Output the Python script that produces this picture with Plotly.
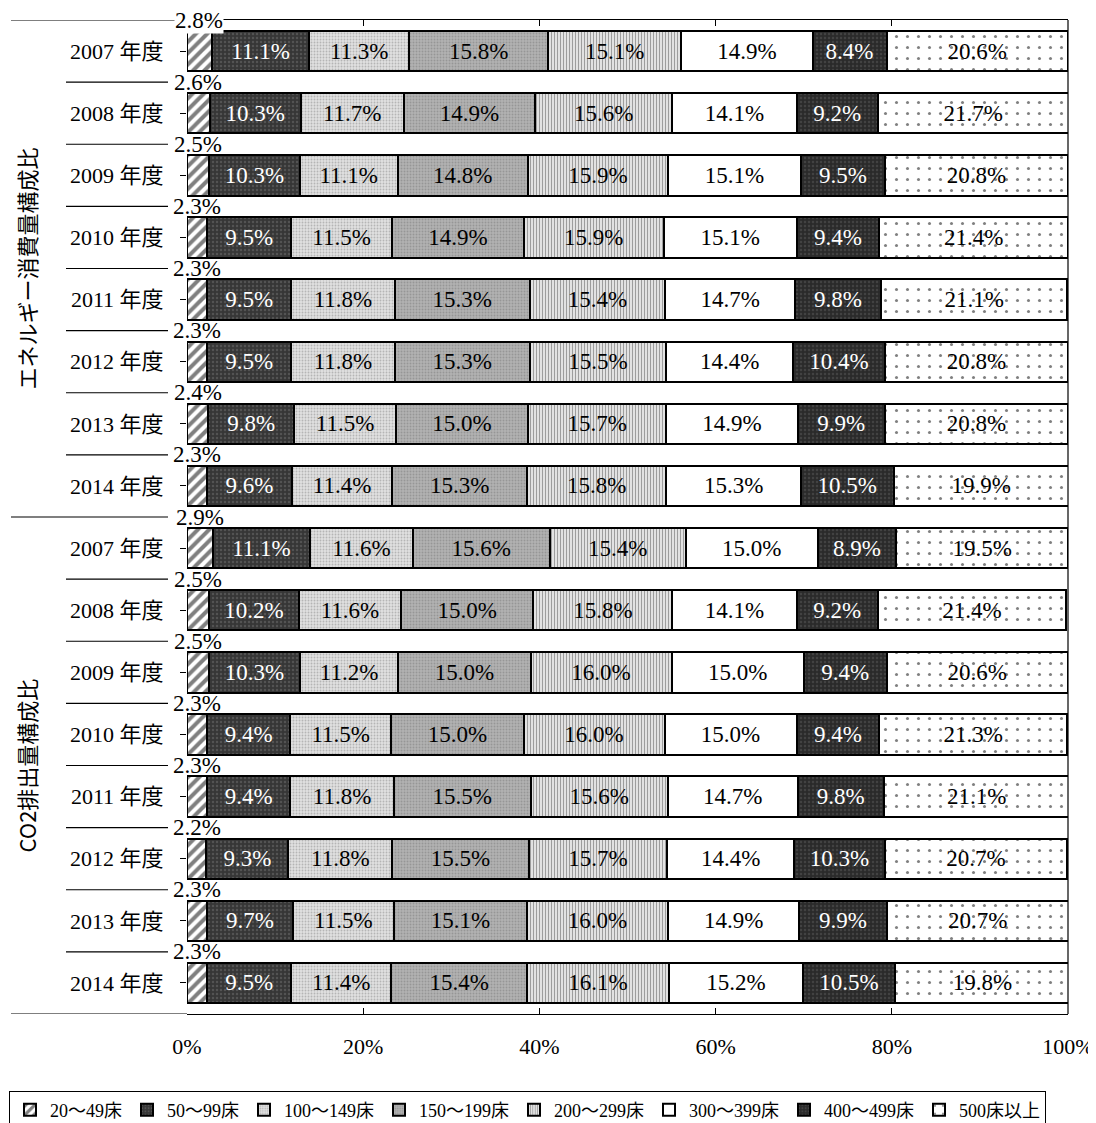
import plotly.graph_objects as go

# ---------------- data ----------------
years = ["2007 年度", "2008 年度", "2009 年度", "2010 年度",
         "2011 年度", "2012 年度", "2013 年度", "2014 年度"]
groups = ["エネルギー消費量構成比", "CO2排出量構成比"]
bed_classes = ["20〜49床", "50〜99床", "100〜149床", "150〜199床",
               "200〜299床", "300〜399床", "400〜499床", "500床以上"]

energy_20_49 = [2.8, 2.6, 2.5, 2.3, 2.3, 2.3, 2.4, 2.3]
energy_50_99 = [11.1, 10.3, 10.3, 9.5, 9.5, 9.5, 9.8, 9.6]
energy_100_149 = [11.3, 11.7, 11.1, 11.5, 11.8, 11.8, 11.5, 11.4]
energy_150_199 = [15.8, 14.9, 14.8, 14.9, 15.3, 15.3, 15.0, 15.3]
energy_200_299 = [15.1, 15.6, 15.9, 15.9, 15.4, 15.5, 15.7, 15.8]
energy_300_399 = [14.9, 14.1, 15.1, 15.1, 14.7, 14.4, 14.9, 15.3]
energy_400_499 = [8.4, 9.2, 9.5, 9.4, 9.8, 10.4, 9.9, 10.5]
energy_500_plus = [20.6, 21.7, 20.8, 21.4, 21.1, 20.8, 20.8, 19.9]

co2_20_49 = [2.9, 2.5, 2.5, 2.3, 2.3, 2.2, 2.3, 2.3]
co2_50_99 = [11.1, 10.2, 10.3, 9.4, 9.4, 9.3, 9.7, 9.5]
co2_100_149 = [11.6, 11.6, 11.2, 11.5, 11.8, 11.8, 11.5, 11.4]
co2_150_199 = [15.6, 15.0, 15.0, 15.0, 15.5, 15.5, 15.1, 15.4]
co2_200_299 = [15.4, 15.8, 16.0, 16.0, 15.6, 15.7, 16.0, 16.1]
co2_300_399 = [15.0, 14.1, 15.0, 15.0, 14.7, 14.4, 14.9, 15.2]
co2_400_499 = [8.9, 9.2, 9.4, 9.4, 9.8, 10.3, 9.9, 10.5]
co2_500_plus = [19.5, 21.4, 20.6, 21.3, 21.1, 20.7, 20.7, 19.8]

x_ticks = [0, 20, 40, 60, 80, 100]

# ---------------- styling ----------------
series = [
    (energy_20_49 + co2_20_49, dict(shape="/", fgcolor="black", bgcolor="white", size=8, solidity=0.5), "black"),
    (energy_50_99 + co2_50_99, dict(shape=".", fgcolor="#707070", bgcolor="#363636", size=4, solidity=0.3), "white"),
    (energy_100_149 + co2_100_149, dict(shape=".", fgcolor="#8a8a8a", bgcolor="#e0e0e0", size=3, solidity=0.3), "black"),
    (energy_150_199 + co2_150_199, dict(shape=".", fgcolor="#7a7a7a", bgcolor="#b2b2b2", size=3, solidity=0.3), "black"),
    (energy_200_299 + co2_200_299, dict(shape="|", fgcolor="#4a4a4a", bgcolor="#f0f0f0", size=3, solidity=0.45), "black"),
    (energy_300_399 + co2_300_399, dict(shape="", fgcolor="white", bgcolor="white"), "black"),
    (energy_400_499 + co2_400_499, dict(shape=".", fgcolor="#5a5a5a", bgcolor="#2a2a2a", size=4, solidity=0.3), "white"),
    (energy_500_plus + co2_500_plus, dict(shape=".", fgcolor="black", bgcolor="white", size=11, solidity=0.06), "black"),
]

SERIF = "Liberation Serif, Noto Sans CJK JP"
row_pos = list(range(16))
row_labels = years + years

fig = go.Figure()
for k, (vals, pat, tcol) in enumerate(series):
    base_color = pat.get("bgcolor", "white")
    show_text = k != 0
    fig.add_trace(go.Bar(
        name=bed_classes[k],
        y=row_pos,
        x=vals,
        orientation="h",
        width=0.65,
        marker=dict(color=base_color, pattern=pat, line=dict(color="black", width=2)),
        text=[f"{v:.1f}%" for v in vals] if show_text else None,
        textposition="inside" if show_text else "none",
        insidetextanchor="middle",
        textangle=0,
        insidetextfont=dict(family=SERIF, size=23, color=tcol),
        hoverinfo="skip",
    ))

# labels for the smallest class, placed above the segment
first_vals = energy_20_49 + co2_20_49
for i, v in enumerate(first_vals):
    fig.add_annotation(
        x=v / 2, y=i - 0.5, xref="x", yref="y",
        text=f"{v:.1f}%", showarrow=False,
        font=dict(family=SERIF, size=23, color="black"),
        bgcolor="white" if i == 0 else None,
        borderpad=0, xanchor="center", yanchor="middle",
    )

# page-pixel helper (the page body adds an 8 px offset)
PX_W = 881.0
def px2paper(px):
    return (px - 187) / PX_W

# group labels (rotated)
for g, name in enumerate(groups):
    fig.add_annotation(
        x=px2paper(25), y=g * 8 + 3.5, xref="paper", yref="y",
        text=name, showarrow=False, textangle=-90,
        font=dict(family="Noto Sans CJK JP", size=22, color="black"),
        xanchor="center", yanchor="middle",
    )

# category separator lines in the label area
shapes = []
for b in range(17):
    yb = b - 0.5
    if b in (0, 8, 16):
        x0 = px2paper(11)
        x1 = 0 if b != 8 else px2paper(168)
    else:
        x0 = px2paper(66)
        x1 = px2paper(168)
    shapes.append(dict(type="line", xref="paper", yref="y", x0=x0, x1=x1, y0=yb, y1=yb,
                       line=dict(color="black", width=1.2)))
# right border
shapes.append(dict(type="line", xref="paper", yref="paper", x0=1, x1=1, y0=0, y1=1,
                   line=dict(color="black", width=1.2)))

fig.update_layout(
    barmode="stack",
    width=1096, height=1123,
    margin=dict(l=179, r=36, t=12, b=117, autoexpand=False),
    paper_bgcolor="white", plot_bgcolor="white",
    font=dict(family=SERIF, size=22, color="black"),
    shapes=shapes,
    showlegend=True,
    uniformtext=dict(minsize=23, mode="show"),
    legend=dict(
        orientation="h", x=px2paper(9), xanchor="left", y=-0.077, yanchor="top",
        bordercolor="black", borderwidth=1,
        font=dict(family=SERIF, size=18, color="black"),
        itemwidth=30, traceorder="normal",
    ),
    bargap=0.35,
)
fig.update_xaxes(
    range=[0, 100], tickvals=x_ticks, ticktext=[f"{t}%" for t in x_ticks],
    showgrid=False, zeroline=False, showline=True, linecolor="black", linewidth=1.2,
    mirror="ticks", ticks="inside", ticklen=6, tickcolor="black",
    ticklabelstandoff=12, tickfont=dict(family=SERIF, size=22),
)
fig.update_yaxes(
    range=[15.5, -0.5], tickvals=row_pos, ticktext=row_labels,
    showgrid=False, zeroline=False, showline=False,
    ticks="outside", ticklen=6, tickcolor="black",
    ticklabelstandoff=12, tickfont=dict(family=SERIF, size=22),
)

fig.write_html("out.html")
